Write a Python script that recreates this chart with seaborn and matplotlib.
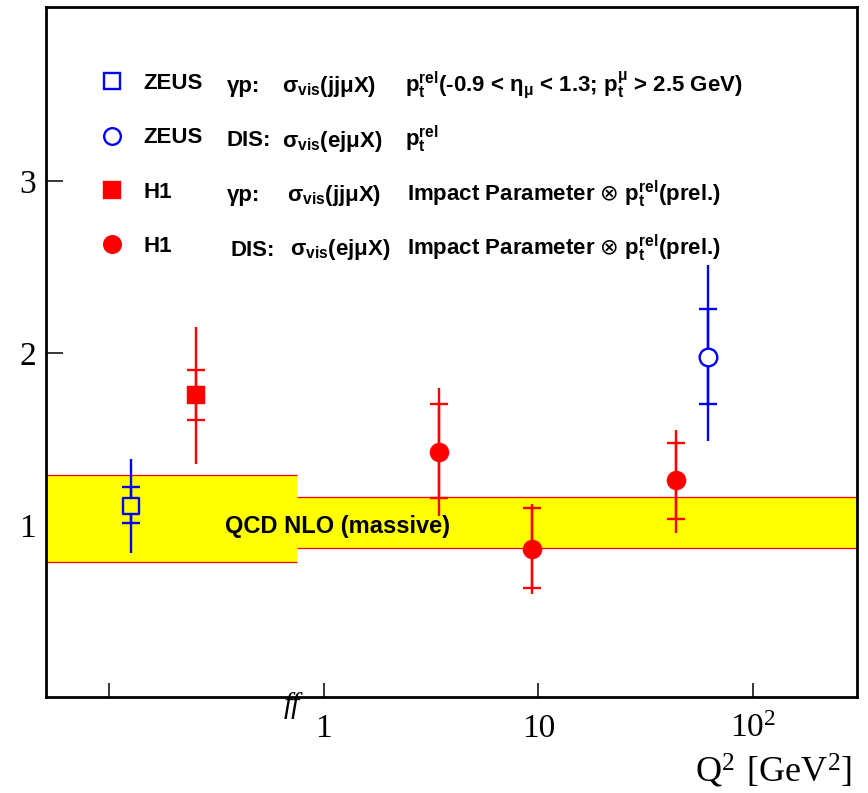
import matplotlib
matplotlib.use("Agg")
import matplotlib.pyplot as plt
import matplotlib.transforms as mtransforms
from matplotlib.lines import Line2D
from matplotlib.ticker import FixedLocator, FixedFormatter, NullLocator
import pandas as pd
import seaborn as sns

sns.set_theme(style="ticks")
plt.rcParams["font.family"] = ["Liberation Sans", "DejaVu Sans"]
plt.rcParams["axes.unicode_minus"] = False
plt.rcParams["text.color"] = "black"
plt.rcParams["xtick.color"] = "black"
plt.rcParams["ytick.color"] = "black"
plt.rcParams["axes.labelcolor"] = "black"

# ---------------- data ----------------
experiments = ["ZEUS γp", "H1 γp", "H1 DIS", "H1 DIS", "H1 DIS", "ZEUS DIS"]
q2 = [0.127, 0.253, 3.45, 9.39, 43.8, 61.7]
ratio = [1.110, 1.754, 1.426, 0.860, 1.262, 1.978]
stat_hi = [1.221, 1.901, 1.701, 1.101, 1.479, 2.256]
stat_lo = [1.012, 1.610, 1.155, 0.632, 1.037, 1.702]
tot_hi = [1.384, 2.151, 1.798, 1.122, 1.552, 2.512]
tot_lo = [0.837, 1.355, 1.054, 0.599, 0.955, 1.488]

q2_range = [0.0506, 306.0]
band_step = 0.751
band_lo = [0.785, 0.866]
band_hi = [1.291, 1.163]
band_label = "QCD NLO (massive)"

xtick_values = [0.1, 1, 10, 100]
xtick_labels = ["", "1", "10", r"$\mathregular{10^2}$"]
ytick_values = [1, 2, 3]
ytick_labels = ["1", "2", "3"]
y_range = [0, 4.01]

legend_first = ["ZEUS", "ZEUS", "H1", "H1"]
legend_process = ["γp:", "DIS:", "γp:", "DIS:"]
legend_xsec = [r"σ$\mathregular{_{vis}}$(jjμX)", r"σ$\mathregular{_{vis}}$(ejμX)",
               r"σ$\mathregular{_{vis}}$(jjμX)", r"σ$\mathregular{_{vis}}$(ejμX)"]
legend_method = [
    r"p$\mathregular{_t^{rel}}$(-0.9 < η$\mathregular{_μ}$ < 1.3; p$\mathregular{_t^μ}$ > 2.5 GeV)",
    r"p$\mathregular{_t^{rel}}$",
    r"Impact Parameter $\otimes$ p$\mathregular{_t^{rel}}$(prel.)",
    r"Impact Parameter $\otimes$ p$\mathregular{_t^{rel}}$(prel.)",
]
legend_order = ["ZEUS γp", "ZEUS DIS", "H1 γp", "H1 DIS"]

df = pd.DataFrame(dict(experiment=experiments, q2=q2, ratio=ratio,
                       stat_hi=stat_hi, stat_lo=stat_lo,
                       tot_hi=tot_hi, tot_lo=tot_lo))

# ---------------- styles ----------------
BLUE = "#0000ff"
RED = "#ff0000"
YELLOW = "#ffff00"
styles = {
    "ZEUS γp": dict(marker="s", fc=YELLOW, ec=BLUE, s=144, lw=1.7, c=BLUE, lfc="none"),
    "ZEUS DIS": dict(marker="o", fc="white", ec=BLUE, s=161, lw=1.7, c=BLUE, lfc="none"),
    "H1 γp": dict(marker="s", fc=RED, ec=RED, s=160, lw=0.3, c=RED, lfc=RED),
    "H1 DIS": dict(marker="o", fc=RED, ec=RED, s=190, lw=0.3, c=RED, lfc=RED),
}

W, H = 868, 793
fig = plt.figure(figsize=(W / 100, H / 100), dpi=100)
ax = fig.add_axes([45.7 / W, 1 - 697 / H, 811.3 / W, 690 / H])
ax.set_facecolor("white")

ax.set_xscale("log")
ax.set_xlim(*q2_range)
ax.set_ylim(*y_range)

# band
segs = [(q2_range[0], band_step), (band_step, q2_range[1])]
for (x0, x1), lo, hi in zip(segs, band_lo, band_hi):
    ax.fill_between([x0, x1], [lo, lo], [hi, hi], color=YELLOW, lw=0, zorder=1)
    ax.hlines([lo, hi], x0, x1, colors=RED, lw=0.9, zorder=1.5)
ax.text((337.5 - 45.7) / 811.3, (697 - 527) / 690, band_label, transform=ax.transAxes,
        ha="center", va="center", fontsize=17, weight="bold", color="black", zorder=5)

# data points
for name, sub in df.groupby("experiment", sort=False):
    st = styles[name]
    ax.errorbar(sub["q2"], sub["ratio"],
                yerr=[sub["ratio"] - sub["tot_lo"], sub["tot_hi"] - sub["ratio"]],
                fmt="none", ecolor=st["c"], elinewidth=1.7, capsize=0, zorder=3)
    ax.errorbar(sub["q2"], sub["ratio"],
                yerr=[sub["ratio"] - sub["stat_lo"], sub["stat_hi"] - sub["ratio"]],
                fmt="none", ecolor=st["c"], elinewidth=1.7, capsize=6.5, capthick=1.7,
                zorder=3)
    sns.scatterplot(data=sub, x="q2", y="ratio", ax=ax, marker=st["marker"],
                    s=st["s"], color=st["fc"], edgecolor=st["ec"], linewidth=st["lw"],
                    zorder=4, legend=False)

ax.set_xlabel("")
ax.set_ylabel("")

# ticks
ax.xaxis.set_major_locator(FixedLocator(xtick_values))
ax.xaxis.set_major_formatter(FixedFormatter(xtick_labels))
ax.xaxis.set_minor_locator(NullLocator())
ax.yaxis.set_major_locator(FixedLocator(ytick_values))
ax.yaxis.set_major_formatter(FixedFormatter(ytick_labels))
ax.yaxis.set_minor_locator(NullLocator())
ax.set_axisbelow(True)
ax.tick_params(axis="x", direction="in", length=10, width=1.1, color="black",
               labelsize=24, pad=12, top=False, labelcolor="black")
ax.tick_params(axis="y", direction="in", length=12.5, width=1.1, color="black",
               labelsize=24, pad=7, right=False, labelcolor="black")
for lab in ax.get_xticklabels() + ax.get_yticklabels():
    lab.set_family("Liberation Serif")
for sp in ax.spines.values():
    sp.set_visible(True)
    sp.set_color("black")
    sp.set_linewidth(2.0)
    sp.set_zorder(6)

ax.set_xlabel(r"$\mathregular{Q^2\ [GeV^2]}$", fontsize=26,
              family="Liberation Serif", labelpad=6, color="black", ha="right")
ax.xaxis.label.set_x((852 - 45.7) / 811.3)

# axis break mark
brk = mtransforms.blended_transform_factory(ax.transData, ax.transAxes)
ax.text(0.711, -0.012, "ff", transform=brk, ha="center", va="center", fontsize=21,
        family="Liberation Serif", style="italic", clip_on=False, zorder=7)

# legend
handles = []
for name in legend_order:
    st = styles[name]
    handles.append(Line2D([], [], ls="none", marker=st["marker"], markersize=12,
                          markerfacecolor=st["lfc"], markeredgecolor=st["ec"],
                          markeredgewidth=1.7))
leg = ax.legend(handles, legend_first, loc="upper left",
                bbox_to_anchor=(100.7 / W, 1 - 73 / H), bbox_transform=fig.transFigure,
                frameon=False, handlelength=1.0, handletextpad=0.91, labelspacing=1.5,
                borderpad=0, borderaxespad=0, prop=dict(weight="bold", size=16))
for t in leg.get_texts():
    t.set_color("black")

row_base = [92, 146.5, 201, 255.5]
col_proc = [227, 227, 227, 230]
col_xsec = [282, 282, 287, 290]
col_meth = [405, 405, 407, 407]
for i in range(4):
    yb = 1 - row_base[i] / H
    fig.text(col_proc[i] / W, yb, legend_process[i], fontsize=16, weight="bold", va="baseline")
    fig.text(col_xsec[i] / W, yb, legend_xsec[i], fontsize=16, weight="bold", va="baseline")
    fig.text(col_meth[i] / W, yb, legend_method[i], fontsize=16, weight="bold", va="baseline")

fig.savefig("out.png", dpi=100)
